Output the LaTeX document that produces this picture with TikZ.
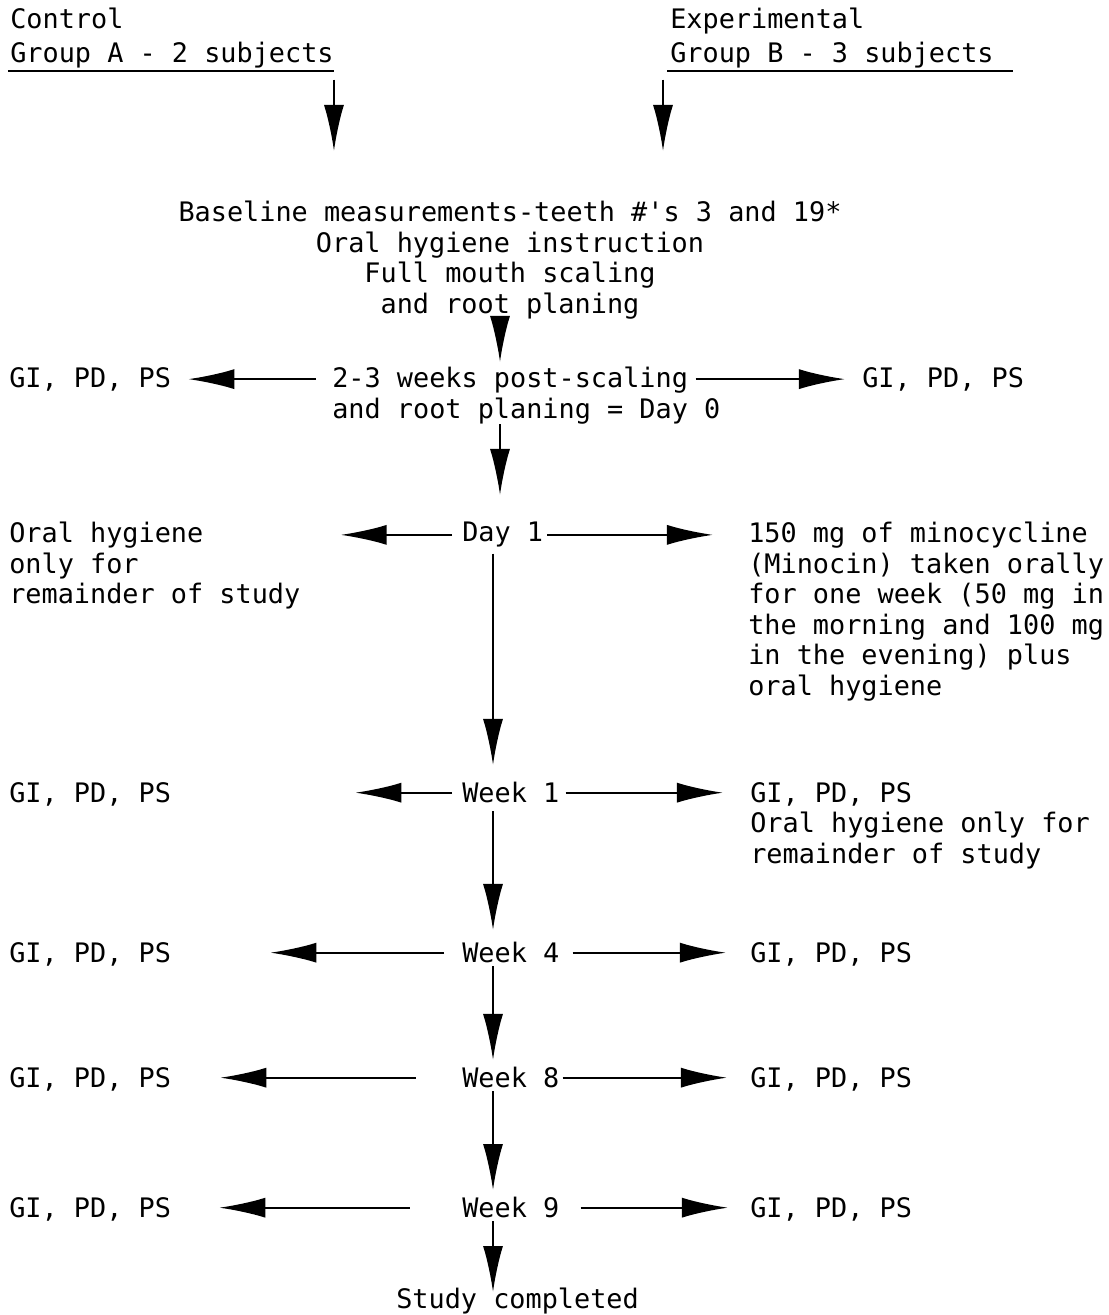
\documentclass[tikz,border=0pt]{standalone}
\usepackage{fontspec}
\usepackage{tikz}
\usetikzlibrary{arrows.meta}
\newfontfamily\typew{DejaVu Sans Mono}
\newcommand{\tyfont}{\typew\fontsize{19.1pt}{21.7pt}\selectfont}
\tikzstyle{txt} = [inner sep=0pt, font=\tyfont, anchor=north west]
\tikzstyle{blk} = [txt, align=left]
\tikzstyle{link} = [-{Latex[length=1.15cm,width=0.5cm]}, line width=1.5pt]

\begin{document}
\begin{tikzpicture}[x=0.025cm, y=-0.025cm]
 \useasboundingbox (0,0) rectangle (1109,1315);

 % the two groups
 \node (ctrl) [txt] at (10,8) {Control};
 \node (grpA) [txt] at (10,42) {Group A - 2 subjects};
 \node (expt) [txt] at (670,8) {Experimental};
 \node (grpB) [txt] at (670,42) {Group B - 3 subjects};
 \draw[line width=1.5pt] ([xshift=-0.05cm,yshift=-0.06cm]grpA.south west) -- ([yshift=-0.06cm]grpA.south east);
 \draw[line width=1.5pt] ([xshift=-0.075cm,yshift=-0.06cm]grpB.south west) -- ([xshift=0.475cm,yshift=-0.06cm]grpB.south east);

 % middle column
 \node (base) [txt, align=center, anchor=north] at (510,201) {Baseline measurements-teeth \#'s 3 and 19*\\Oral hygiene instruction\\Full mouth scaling\\and root planing};
 \node (day0) [blk] at (332,367) {2-3 weeks post-scaling\\and root planing = Day 0};
 \node (day1) [txt] at (462,522) {Day 1};
 \node (wk1) [txt] at (462,782) {Week 1};
 \node (wk4) [txt] at (462,942) {Week 4};
 \node (wk8) [txt] at (462,1067) {Week 8};
 \node (wk9) [txt] at (462,1197) {Week 9};
 \node (done) [txt] at (396,1288) {Study completed};

 % control side
 \node (gi0l) [txt] at (9,367) {GI, PD, PS};
 \node (ohl) [blk] at (9,522) {Oral hygiene\\only for\\remainder of study};
 \node (gi1l) [txt] at (9,782) {GI, PD, PS};
 \node (gi4l) [txt] at (9,942) {GI, PD, PS};
 \node (gi8l) [txt] at (9,1067) {GI, PD, PS};
 \node (gi9l) [txt] at (9,1197) {GI, PD, PS};

 % experimental side
 \node (gi0r) [txt] at (862,367) {GI, PD, PS};
 \node (mino) [blk] at (748,522) {150 mg of minocycline\\(Minocin) taken orally\\for one week (50 mg in\\the morning and 100 mg\\in the evening) plus\\oral hygiene};
 \node (gi1r) [blk] at (750,782) {GI, PD, PS\\Oral hygiene only for\\remainder of study};
 \node (gi4r) [txt] at (750,942) {GI, PD, PS};
 \node (gi8r) [txt] at (750,1067) {GI, PD, PS};
 \node (gi9r) [txt] at (750,1197) {GI, PD, PS};

 % down the middle
 \draw[link, shorten <=0.275cm, shorten >=1.25cm] (grpA.south east) -- (grpA.south east |- base.north);
 \draw[link, shorten <=0.275cm, shorten >=1.25cm] ([xshift=-0.175cm]grpB.south west) -- ([xshift=-0.175cm]grpB.south west |- base.north);
 \draw[link, shorten <=-0.175cm, shorten >=0.125cm] ([xshift=-0.25cm]base.south) -- ([xshift=-0.25cm]base.south |- day0.north);
 \draw[link, shorten >=0.675cm] ([xshift=-0.25cm]base.south |- day0.south) -- ([xshift=-0.25cm]base.south |- day1.north);
 \draw[link, shorten <=0.15cm, shorten >=0.425cm] ([xshift=0.775cm]day1.south west) -- ([xshift=0.775cm]wk1.north west);
 \draw[link, shorten <=0.2cm, shorten >=0.3cm] ([xshift=0.775cm]wk1.south west) -- ([xshift=0.775cm]wk4.north west);
 \draw[link, shorten <=0.075cm, shorten >=0.175cm] ([xshift=0.775cm]wk4.south west) -- ([xshift=0.775cm]wk8.north west);
 \draw[link, shorten <=0.075cm, shorten >=0.175cm] ([xshift=0.775cm]wk8.south west) -- ([xshift=0.775cm]wk9.north west);
 \draw[link, shorten <=0.075cm, shorten >=-0.1cm] ([xshift=0.775cm]wk9.south west) -- ([xshift=0.775cm]wk9.south west |- done.north);

 % out to the sides
 \draw[link, shorten <=0.4cm, shorten >=0.425cm] (gi0l.east -| day0.west) -- (gi0l.east);
 \draw[link, shorten <=-0.625cm, shorten >=0.425cm] (gi0r.west -| day0.east) -- (gi0r.west);
 \draw[link, shorten <=0.25cm, shorten >=1.0cm] (day1.west) -- (day1.west -| ohl.east);
 \draw[link, shorten <=0.1cm, shorten >=0.875cm] (day1.east) -- (day1.east -| mino.west);
 \draw[link, shorten <=0.25cm, shorten >=4.6cm] (wk1.west) -- (wk1.west -| gi1l.east);
 \draw[link, shorten <=0.15cm, shorten >=0.675cm] (wk1.east) -- (wk1.east -| gi1r.west);
 \draw[link, shorten <=0.45cm, shorten >=2.475cm] (wk4.west) -- (wk4.west -| gi4l.east);
 \draw[link, shorten <=0.325cm, shorten >=0.6cm] (wk4.east) -- (wk4.east -| gi4r.west);
 \draw[link, shorten <=1.15cm, shorten >=1.225cm] (wk8.west) -- (wk8.west -| gi8l.east);
 \draw[link, shorten <=0.075cm, shorten >=0.575cm] (wk8.east) -- (wk8.east -| gi8r.west);
 \draw[link, shorten <=1.3cm, shorten >=1.2cm] (wk9.west) -- (wk9.west -| gi9l.east);
 \draw[link, shorten <=0.525cm, shorten >=0.55cm] (wk9.east) -- (wk9.east -| gi9r.west);
\end{tikzpicture}
\end{document}
